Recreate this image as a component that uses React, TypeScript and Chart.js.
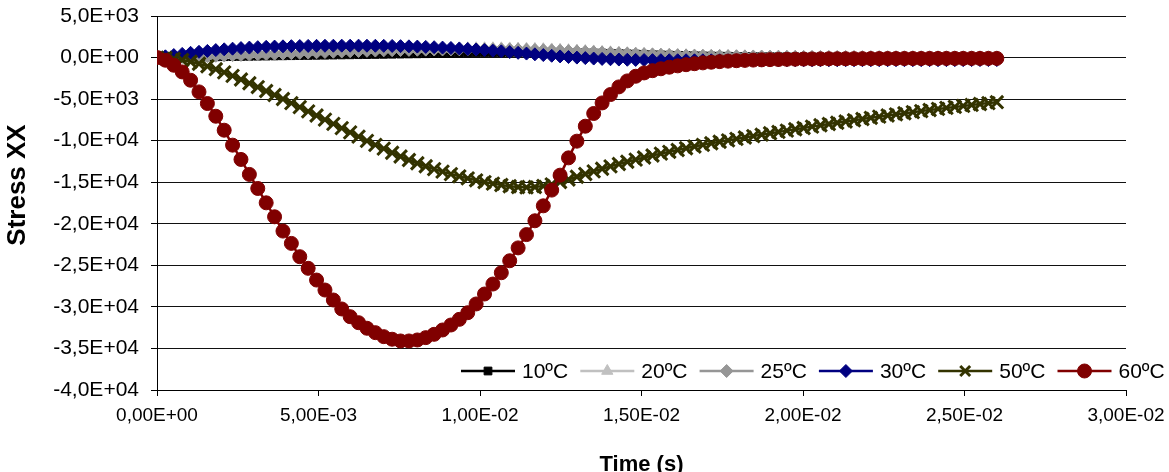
import React, { useEffect, useRef } from 'react';
import { Chart, registerables } from 'chart.js';

Chart.register(...registerables);

// ---------- DATA ----------
const time = [
  0, 0.00026, 0.00052, 0.00078, 0.00104, 0.0013, 0.00156, 0.00182, 0.00208, 0.00234,
  0.0026, 0.00286, 0.00312, 0.00338, 0.00364, 0.0039, 0.00416, 0.00442, 0.00468, 0.00494,
  0.0052, 0.00546, 0.00572, 0.00598, 0.00624, 0.0065, 0.00676, 0.00702, 0.00728, 0.00754,
  0.0078, 0.00806, 0.00832, 0.00858, 0.00884, 0.0091, 0.00936, 0.00962, 0.00988, 0.01014,
  0.0104, 0.01066, 0.01092, 0.01118, 0.01144, 0.0117, 0.01196, 0.01222, 0.01248, 0.01274,
  0.013, 0.01326, 0.01352, 0.01378, 0.01404, 0.0143, 0.01456, 0.01482, 0.01508, 0.01534,
  0.0156, 0.01586, 0.01612, 0.01638, 0.01664, 0.0169, 0.01716, 0.01742, 0.01768, 0.01794,
  0.0182, 0.01846, 0.01872, 0.01898, 0.01924, 0.0195, 0.01976, 0.02002, 0.02028, 0.02054,
  0.0208, 0.02106, 0.02132, 0.02158, 0.02184, 0.0221, 0.02236, 0.02262, 0.02288, 0.02314,
  0.0234, 0.02366, 0.02392, 0.02418, 0.02444, 0.0247, 0.02496, 0.02522, 0.02548, 0.02574,
  0.026,
];

const stress10 = [
  0, 5, 15, 30, 45, 60, 75, 90, 105, 120,
  135, 150, 165, 180, 195, 210, 225, 240, 255, 270,
  285, 300, 315, 330, 345, 360, 375, 390, 405, 420,
  435, 450, 465, 480, 495, 510, 525, 540, 555, 570,
  585, 598, 610, 620, 628, 633, 635, 633, 627, 617,
  603, 585, 563, 538, 510, 480, 449, 417, 385, 354,
  324, 296, 270, 246, 224, 204, 186, 170, 155, 142,
  130, 119, 109, 100, 92, 85, 78, 72, 66, 61,
  56, 52, 48, 44, 41, 38, 35, 33, 31, 29,
  27, 25, 24, 22, 21, 20, 19, 18, 17, 16,
  15,
];

const stress20 = [
  0, 20, 50, 90, 130, 170, 210, 250, 290, 330,
  370, 410, 450, 490, 530, 570, 610, 650, 690, 730,
  770, 805, 840, 875, 905, 935, 960, 985, 1010, 1030,
  1050, 1065, 1080, 1090, 1100, 1108, 1114, 1118, 1120, 1121,
  1120, 1112, 1100, 1085, 1065, 1040, 1010, 975, 935, 890,
  840, 790, 738, 685, 632, 580, 532, 487, 445, 405,
  368, 335, 305, 278, 253, 230, 210, 192, 176, 161,
  148, 136, 125, 115, 106, 98, 91, 84, 78, 72,
  67, 62, 58, 54, 50, 47, 44, 41, 38, 36,
  34, 32, 30, 28, 26, 25, 24, 23, 22, 21,
  20,
];

const stress25 = [
  0, 15, 40, 75, 110, 145, 180, 215, 250, 285,
  320, 355, 390, 425, 460, 495, 530, 565, 600, 635,
  670, 700, 730, 760, 788, 815, 840, 864, 886, 906,
  924, 940, 954, 966, 976, 984, 990, 994, 996, 997,
  996, 988, 976, 960, 940, 916, 888, 856, 820, 780,
  738, 694, 649, 604, 560, 517, 476, 437, 400, 366,
  334, 305, 278, 254, 232, 212, 194, 178, 163, 150,
  138, 127, 117, 108, 100, 93, 86, 80, 74, 69,
  64, 60, 56, 52, 49, 46, 43, 40, 38, 36,
  34, 32, 30, 28, 27, 26, 25, 24, 23, 22,
  21,
];

const stress30 = [
  0, 150, 300, 440, 570, 690, 800, 900, 990, 1070,
  1140, 1200, 1250, 1290, 1320, 1350, 1370, 1390, 1400, 1410,
  1420, 1425, 1430, 1430, 1430, 1425, 1420, 1410, 1395, 1375,
  1350, 1320, 1285, 1245, 1200, 1150, 1095, 1035, 970, 900,
  825, 745, 660, 570, 480, 390, 300, 215, 135, 60,
  -5, -65, -120, -165, -205, -240, -265, -285, -300, -310,
  -318, -322, -325, -327, -328, -330, -330, -331, -331, -331,
  -331, -331, -330, -330, -330, -329, -329, -328, -328, -327,
  -326, -325, -324, -323, -322, -321, -320, -319, -318, -317,
  -316, -315, -314, -313, -312, -311, -310, -309, -308, -307,
  -306,
];

const stress50 = [
  0, -50, -150, -300, -500, -750, -1050, -1400, -1780, -2200,
  -2640, -3090, -3550, -4020, -4500, -4990, -5480, -5970, -6470, -6970,
  -7470, -7980, -8490, -9000, -9510, -10020, -10500, -10960, -11450, -11900,
  -12330, -12720, -13080, -13420, -13730, -14020, -14290, -14540, -14770, -14980,
  -15170, -15340, -15480, -15580, -15620, -15580, -15450, -15250, -14980, -14670,
  -14340, -14010, -13690, -13380, -13090, -12810, -12540, -12280, -12030, -11790,
  -11560, -11340, -11120, -10910, -10700, -10500, -10310, -10130, -9960, -9790,
  -9620, -9450, -9280, -9110, -8950, -8790, -8630, -8470, -8310, -8150,
  -7990, -7840, -7690, -7540, -7390, -7250, -7110, -6970, -6830, -6700,
  -6570, -6440, -6310, -6180, -6060, -5940, -5820, -5700, -5590, -5480,
  -5370,
];

const stress60 = [
  0, -320, -925, -1730, -2730, -4130, -5530, -7060, -8740, -10540,
  -12260, -14060, -15750, -17480, -19160, -20880, -22360, -23960, -25360, -26770,
  -27970, -29170, -30250, -31180, -31900, -32570, -33100, -33580, -33890, -34100,
  -34100, -33980, -33700, -33300, -32780, -32180, -31500, -30700, -29650, -28450,
  -27250, -25890, -24450, -22900, -21300, -19640, -17840, -15950, -14150, -12070,
  -10060, -8260, -6730, -5460, -4450, -3530, -2810, -2250, -1850, -1580,
  -1350, -1160, -1000, -860, -740, -640, -560, -490, -430, -380,
  -340, -305, -275, -250, -230, -210, -195, -180, -170, -160,
  -150, -145, -140, -135, -130, -126, -122, -118, -115, -112,
  -110, -108, -106, -104, -102, -100, -100, -100, -100, -100,
  -100,
];

const seriesNames = ['10ºC', '20ºC', '25ºC', '30ºC', '50ºC', '60ºC'];
const seriesValues = [stress10, stress20, stress25, stress30, stress50, stress60];
const seriesColors = ['#000000', '#C0C0C0', '#969696', '#000080', '#333300', '#800000'];
const seriesMarkers = ['rect', 'triangle', 'rectRot', 'rectRot', 'crossRot', 'circle'];
const seriesRadius = [5.5, 6.5, 6.5, 6.5, 9, 7];

const xAxisTitle = 'Time (s)';
const yAxisTitle = 'Stress XX';
const xMin = 0;
const xMax = 0.03;
const xStep = 0.005;
const yMin = -40000;
const yMax = 5000;
const yStep = 5000;

const FONT = '"Liberation Sans", Arial, Helvetica, sans-serif';

function sci(v: number, digits: number): string {
  if (Math.abs(v) < 1e-12) return '0,' + '0'.repeat(digits) + 'E+00';
  const s = v.toExponential(digits);
  const [m, e] = s.split('e');
  const ei = parseInt(e, 10);
  const es = (ei < 0 ? '-' : '+') + String(Math.abs(ei)).padStart(2, '0');
  return m.replace('.', ',') + 'E' + es;
}

function drawMarker(ctx: CanvasRenderingContext2D, style: string, x: number, y: number, r: number, color: string) {
  ctx.save();
  ctx.fillStyle = color;
  ctx.strokeStyle = color;
  ctx.lineWidth = 1;
  ctx.beginPath();
  if (style === 'rect') {
    const s = Math.SQRT1_2 * r;
    ctx.rect(x - s, y - s, 2 * s, 2 * s);
    ctx.fill();
    ctx.stroke();
  } else if (style === 'triangle') {
    const a = (2 * Math.PI) / 3;
    ctx.moveTo(x, y - r);
    ctx.lineTo(x + Math.sin(a) * r, y - Math.cos(a) * r);
    ctx.lineTo(x + Math.sin(2 * a) * r, y - Math.cos(2 * a) * r);
    ctx.closePath();
    ctx.fill();
    ctx.stroke();
  } else if (style === 'rectRot') {
    ctx.moveTo(x - r, y);
    ctx.lineTo(x, y - r);
    ctx.lineTo(x + r, y);
    ctx.lineTo(x, y + r);
    ctx.closePath();
    ctx.fill();
    ctx.stroke();
  } else if (style === 'crossRot') {
    const o = Math.SQRT1_2 * r;
    ctx.lineWidth = 3;
    ctx.moveTo(x - o, y - o);
    ctx.lineTo(x + o, y + o);
    ctx.moveTo(x + o, y - o);
    ctx.lineTo(x - o, y + o);
    ctx.stroke();
  } else {
    ctx.arc(x, y, r, 0, Math.PI * 2);
    ctx.fill();
    ctx.stroke();
  }
  ctx.restore();
}

const decorPlugin = {
  id: 'decor',
  afterDraw(chart: any) {
    const ctx: CanvasRenderingContext2D = chart.ctx;
    const area = chart.chartArea;
    ctx.save();
    ctx.fillStyle = '#000';
    // Y axis title
    ctx.font = 'bold 26px ' + FONT;
    ctx.textAlign = 'center';
    ctx.textBaseline = 'alphabetic';
    ctx.save();
    ctx.translate(25, 185);
    ctx.rotate(-Math.PI / 2);
    ctx.fillText(yAxisTitle, 0, 0);
    ctx.restore();
    // X axis title
    ctx.font = 'bold 22px ' + FONT;
    ctx.fillText(xAxisTitle, (area.left + area.right) / 2, 471);
    // Legend
    const legendY = 371;
    const startX = 461;
    const itemStep = 119.3;
    for (let i = 0; i < seriesNames.length; i++) {
      const x0 = startX + itemStep * i;
      ctx.save();
      ctx.strokeStyle = seriesColors[i];
      ctx.lineWidth = 2.5;
      ctx.beginPath();
      ctx.moveTo(x0, legendY);
      ctx.lineTo(x0 + 54, legendY);
      ctx.stroke();
      ctx.restore();
      drawMarker(ctx, seriesMarkers[i], x0 + 27, legendY, Math.min(seriesRadius[i], 7), seriesColors[i]);
      ctx.fillStyle = '#000';
      ctx.font = '21px ' + FONT;
      ctx.textAlign = 'left';
      ctx.textBaseline = 'middle';
      ctx.fillText(seriesNames[i], x0 + 61, legendY + 1);
    }
    ctx.restore();
  },
};

export default function App() {
  const canvasRef = useRef<HTMLCanvasElement | null>(null);

  useEffect(() => {
    const canvas = canvasRef.current;
    if (!canvas) return;
    const datasets = seriesNames.map((name, i) => ({
      label: name,
      data: time.map((t, k) => ({ x: t, y: seriesValues[i][k] })),
      borderColor: seriesColors[i],
      backgroundColor: seriesColors[i],
      borderWidth: 2.5,
      pointStyle: seriesMarkers[i] as any,
      pointRadius: seriesRadius[i],
      pointBorderWidth: seriesMarkers[i] === 'crossRot' ? 3 : 1,
      pointBackgroundColor: seriesColors[i],
      pointBorderColor: seriesColors[i],
      tension: 0,
      fill: false,
      order: seriesNames.length - i,
    }));

    const chart = new Chart(canvas, {
      type: 'line',
      data: { datasets },
      options: {
        animation: false,
        responsive: false,
        devicePixelRatio: 1,
        events: [],
        layout: { padding: { top: 16, right: 43, left: 0, bottom: 0 } },
        plugins: {
          legend: { display: false },
          tooltip: { enabled: false },
          title: { display: false },
        },
        scales: {
          x: {
            type: 'linear',
            min: xMin,
            max: xMax,
            afterFit: (scale: any) => {
              scale.height = 82;
              scale.paddingLeft = 0;
              scale.paddingRight = 0;
            },
            ticks: {
              stepSize: xStep,
              autoSkip: false,
              maxRotation: 0,
              minRotation: 0,
              padding: 8,
              color: '#000',
              font: { family: FONT, size: 19 },
              callback: (v: any) => sci(Number(v), 2),
            },
            grid: {
              drawOnChartArea: false,
              drawTicks: true,
              tickLength: 6,
              color: '#000',
              tickColor: '#000',
            },
            border: { display: true, color: '#000', width: 1 },
          },
          y: {
            type: 'linear',
            min: yMin,
            max: yMax,
            afterFit: (scale: any) => {
              scale.width = 157;
              scale.paddingTop = 0;
              scale.paddingBottom = 0;
            },
            ticks: {
              stepSize: yStep,
              autoSkip: false,
              padding: 12,
              color: '#000',
              font: { family: FONT, size: 21 },
              callback: (v: any) => sci(Number(v), 1),
            },
            grid: {
              drawOnChartArea: true,
              drawTicks: true,
              tickLength: 6,
              color: '#111',
              tickColor: '#000',
              lineWidth: 1,
            },
            border: { display: true, color: '#000', width: 1 },
          },
        },
      },
      plugins: [decorPlugin],
    });
    return () => chart.destroy();
  }, []);

  return (
    <div style={{ position: 'fixed', left: 0, top: 0, width: 1169, height: 472, background: '#fff' }}>
      <canvas ref={canvasRef} width={1169} height={472} style={{ display: 'block', width: 1169, height: 472 }} />
    </div>
  );
}
